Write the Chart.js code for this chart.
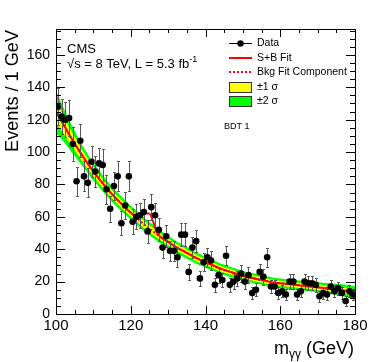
<!DOCTYPE html>
<html><head><meta charset="utf-8">
<script src="https://cdn.jsdelivr.net/npm/chart.js@4"></script>
<style>html,body{margin:0;padding:0;background:#fff;}canvas{display:block;}</style>
</head><body>
<canvas id="c" width="374" height="362"></canvas>
<script>
// ---- data ----
const binLow = 100, binWidth = 1;
const counts = [
  128,122,120,121,105,82,107,85,81,94,
  88,93,92,77,65,79,85,56,67,85,
  57,60,61,63,51,66,61,52,41,48,
  39,39,35,49,49,26,41,45,22,32,
  35,33,18,24,21,36,18,20,22,25,
  20,24,13,15,26,23,35,17,17,13,
  14,12,20,20,12,14,20,19,19,18,
  11,13,12,17,14,16,13,8,14,12
];
const fitMass = [100,102,104,106,108,110,112,114,116,118,120,122,124,126,128,130,132,134,136,138,140,
                 142,144,146,148,150,152,154,156,158,160,162,164,166,168,170,172,174,176,178,180];
const bkgFit  = [125,117,109,101.5,94.5,88,82,76.5,71.5,67,62.5,58.5,54.5,51,47.5,44.5,41.5,39,36.5,34,32,
                 30,28,26.5,25,23.5,22.5,21.5,20.5,19.5,19,18.5,18,17.5,17,16.5,16,15.5,15,14,13];
const band1   = [7,5.5,4.5,3.7,3.2,2.9,2.7,2.6,2.5,2.4,2.3,2.3,2.2,2.2,2.1,2.1,2,2,1.9,1.9,1.8,
                 1.8,1.7,1.7,1.7,1.6,1.6,1.6,1.6,1.6,1.6,1.6,1.6,1.6,1.6,1.7,1.7,1.8,1.9,2,2.2];
const band2   = [13,10.5,8.5,7,6,5.4,5,4.8,4.6,4.5,4.4,4.3,4.2,4.1,4,3.9,3.8,3.7,3.6,3.5,3.4,
                 3.3,3.2,3.2,3.1,3.1,3,3,3,3,3,3,3,3,3,3.1,3.2,3.3,3.5,3.8,4.2];
const sbMass = [100,102,104,106,108,110,112,114,116,118,120,121,122,123,124,125,126,127,128,129,130,132,134,136,138,140,
                142,144,146,148,150,152,154,156,158,160,162,164,166,168,170,172,174,176,178,180];
const sbFit  = [125,117,109,101.5,94.5,88,82,76.5,71.5,67,62.5,60.8,60.2,61,62.2,62,57,50.5,47.5,46,44.5,41.5,39,36.5,34,32,
                30,28,26.5,25,23.5,22.5,21.5,20.5,19.5,19,18.5,18,17.5,17,16.5,16,15.5,15,14,13];
const xTickLabels = [100,120,140,160,180];
const yTickLabels = [0,20,40,60,80,100,120,140,160];

// ---- build ----
const FONT = "'Liberation Sans', Arial, Helvetica, sans-serif";
const pts = counts.map((n,i)=>({x: binLow + binWidth*(i+0.5), y: n}));
const line = (xs, ys) => xs.map((m,i)=>({x:m, y:ys[i]}));
const shift = (ys, ds, s) => ys.map((v,i)=>v + s*ds[i]);

const deco = {
  id:'deco',
  beforeDatasetDraw(chart, args){
    if(args.index !== 0) return;
    const {ctx, scales:{x,y}, chartArea:a} = chart;
    ctx.save();
    ctx.beginPath(); ctx.rect(a.left,a.top,a.right-a.left,a.bottom-a.top); ctx.clip();
    ctx.strokeStyle = '#5a5a5a'; ctx.lineWidth = 1;
    pts.forEach(p=>{
      const e = Math.sqrt(p.y);
      const px = Math.round(x.getPixelForValue(p.x)) + 0.5;
      const y1 = Math.round(y.getPixelForValue(p.y - e)) + 0.5;
      const y2 = Math.round(y.getPixelForValue(p.y + e)) + 0.5;
      ctx.beginPath();
      ctx.moveTo(px,y1); ctx.lineTo(px,y2);
      ctx.moveTo(px-1.5,y1); ctx.lineTo(px+1.5,y1);
      ctx.moveTo(px-1.5,y2); ctx.lineTo(px+1.5,y2);
      ctx.stroke();
    });
    ctx.restore();
  },
  afterDraw(chart){
    const {ctx, scales:{x,y}, chartArea:a} = chart;
    ctx.save();
    // frame
    ctx.strokeStyle = '#000'; ctx.lineWidth = 1;
    ctx.strokeRect(Math.round(a.left)+0.5, Math.round(a.top)+0.5, Math.round(a.right-a.left), Math.round(a.bottom-a.top));
    // inward ticks
    ctx.beginPath();
    for(let v=100; v<=180; v+=5){
      const px = Math.round(x.getPixelForValue(v))+0.5;
      const L = (v%20===0)?8:4;
      ctx.moveTo(px,a.bottom); ctx.lineTo(px,a.bottom-L);
      ctx.moveTo(px,a.top); ctx.lineTo(px,a.top+L);
    }
    for(let v=0; v<=175; v+=5){
      const py = Math.round(y.getPixelForValue(v))+0.5;
      const L = (v%20===0)?9:5;
      ctx.moveTo(a.left,py); ctx.lineTo(a.left+L,py);
      ctx.moveTo(a.right,py); ctx.lineTo(a.right-L,py);
    }
    ctx.stroke();
    ctx.fillStyle = '#000';
    // y title
    ctx.save();
    const yt = 'Events / 1 GeV';
    ctx.font = '18px '+FONT;
    const fs = 18*122/ctx.measureText(yt).width;
    ctx.font = fs.toFixed(2)+'px '+FONT;
    ctx.translate(18, 30); ctx.rotate(-Math.PI/2);
    ctx.textAlign = 'right'; ctx.textBaseline = 'alphabetic';
    ctx.fillText(yt, 0, 0);
    ctx.restore();
    // x title with subscript
    ctx.textBaseline = 'alphabetic';
    const big = '18px '+FONT, small = '12px '+FONT;
    ctx.font = big; const wm = ctx.measureText('m').width; const wg = ctx.measureText(' (GeV)').width;
    ctx.font = small; const ws = ctx.measureText('γγ').width;
    let xs = 354 - wg - ws - wm;
    ctx.font = big; ctx.fillText('m', xs, 354); xs += wm;
    ctx.font = small; ctx.fillText('γγ', xs, 358); xs += ws;
    ctx.font = big; ctx.fillText(' (GeV)', xs, 354);
    // CMS labels
    ctx.font = '13px '+FONT;
    ctx.fillText('CMS', 67, 52.5);
    const s1 = '√s = 8 TeV, L = 5.3 fb';
    ctx.fillText(s1, 67, 67.5);
    const w1 = ctx.measureText(s1).width;
    ctx.font = '9px '+FONT;
    ctx.fillText('-1', 67 + w1, 62);
    ctx.fillText('BDT 1', 224, 128.5);
    // legend
    const lx0 = 229, lx1 = 252, tx = 257;
    ctx.font = '10.5px '+FONT; ctx.textBaseline = 'middle';
    ctx.strokeStyle = '#000'; ctx.lineWidth = 1;
    ctx.beginPath(); ctx.moveTo(lx0,43.5); ctx.lineTo(lx1,43.5); ctx.stroke();
    ctx.beginPath(); ctx.arc(240.5,43.5,3.2,0,Math.PI*2); ctx.fillStyle='#000'; ctx.fill();
    ctx.fillText('Data', tx, 43.5);
    ctx.strokeStyle = '#ff0000'; ctx.lineWidth = 2;
    ctx.beginPath(); ctx.moveTo(lx0,58); ctx.lineTo(lx1,58); ctx.stroke();
    ctx.fillText('S+B Fit', tx, 58);
    ctx.setLineDash([2,2]);
    ctx.beginPath(); ctx.moveTo(lx0,72); ctx.lineTo(lx1,72); ctx.stroke();
    ctx.setLineDash([]);
    ctx.fillText('Bkg Fit Component', tx, 72);
    ctx.lineWidth = 1; ctx.strokeStyle = '#333';
    ctx.fillStyle = '#ffff00'; ctx.fillRect(229.5,82.5,22,10); ctx.strokeRect(229.5,82.5,22,10);
    ctx.fillStyle = '#00ff00'; ctx.fillRect(229.5,96.5,22,10); ctx.strokeRect(229.5,96.5,22,10);
    ctx.fillStyle = '#000';
    ctx.fillText('±1 σ', tx, 87.5);
    ctx.fillText('±2 σ', tx, 101.5);
    ctx.restore();
  }
};

new Chart(document.getElementById('c'), {
  type: 'line',
  data: { datasets: [
    {label:'Data', data: pts, showLine:false, pointRadius:3.3, pointBackgroundColor:'#000', pointBorderColor:'#000', pointBorderWidth:0, order:0},
    {label:'S+B Fit', data: line(sbMass, sbFit), borderColor:'#ff0000', borderWidth:2, pointRadius:0, cubicInterpolationMode:'monotone', fill:false, order:1},
    {label:'Bkg Fit Component', data: line(fitMass, bkgFit), borderColor:'#ff0000', borderWidth:2, borderDash:[2,2], pointRadius:0, cubicInterpolationMode:'monotone', fill:false, order:2},
    {label:'+1s', data: line(fitMass, shift(bkgFit, band1, 1)), borderWidth:0, pointRadius:0, cubicInterpolationMode:'monotone', backgroundColor:'#ffff00', fill:'+1', order:3},
    {label:'-1s', data: line(fitMass, shift(bkgFit, band1, -1)), borderWidth:0, pointRadius:0, cubicInterpolationMode:'monotone', fill:false, order:4},
    {label:'+2s', data: line(fitMass, shift(bkgFit, band2, 1)), borderWidth:0, pointRadius:0, cubicInterpolationMode:'monotone', backgroundColor:'#00ff00', fill:'+1', order:5},
    {label:'-2s', data: line(fitMass, shift(bkgFit, band2, -1)), borderWidth:0, pointRadius:0, cubicInterpolationMode:'monotone', fill:false, order:6}
  ]},
  options: {
    responsive:false, animation:false, devicePixelRatio:1,
    layout:{padding:{left:0, right:19, top:29, bottom:0}},
    plugins:{legend:{display:false}, tooltip:{enabled:false}},
    scales:{
      x:{type:'linear', min:100, max:180,
         afterBuildTicks: s => { s.ticks = xTickLabels.map(v=>({value:v})); },
         afterFit: s => { s.height = 48; },
         grid:{display:false, drawTicks:false}, border:{display:false},
         ticks:{color:'#000', font:{family:FONT, size:15}, padding:3, maxRotation:0, autoSkip:false}},
      y:{type:'linear', min:0, max:176,
         afterBuildTicks: s => { s.ticks = yTickLabels.map(v=>({value:v})); },
         afterFit: s => { s.width = 56; },
         grid:{display:false, drawTicks:false}, border:{display:false},
         ticks:{color:'#000', font:{family:FONT, size:14}, padding:6, autoSkip:false}}
    }
  },
  plugins:[deco]
});
</script>
</body></html>
